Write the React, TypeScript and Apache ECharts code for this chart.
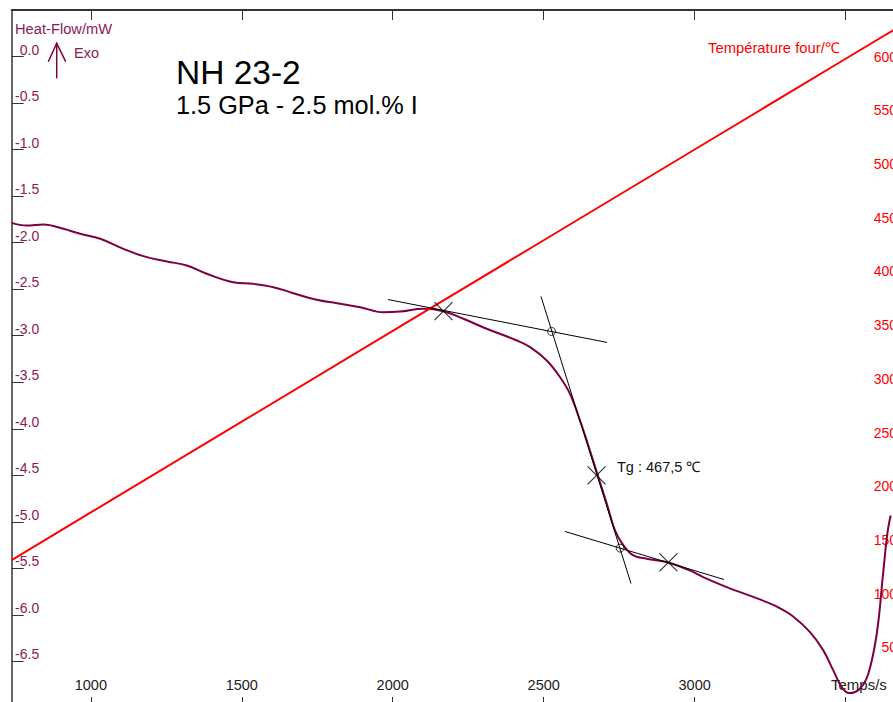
import React, { useEffect, useRef } from "react";
import * as echarts from "echarts";

// Heat-flow curve (time in s, heat flow in mW)
const hfTimes = [738, 788, 843, 909, 965, 1031, 1108, 1174, 1252, 1318, 1384, 1472, 1538, 1605, 1671, 1748, 1815, 1892, 1969, 2024, 2101, 2168, 2234, 2311, 2411, 2455, 2510, 2554, 2587, 2620, 2653, 2681, 2709, 2736, 2764, 2797, 2841, 2913, 2984, 3028, 3106, 3216, 3271, 3326, 3382, 3426, 3459, 3487, 3512, 3547, 3575, 3603, 3624, 3638, 3649];
const hfValues = [-1.787, -1.816, -1.805, -1.851, -1.905, -1.958, -2.066, -2.145, -2.202, -2.245, -2.334, -2.425, -2.442, -2.478, -2.543, -2.614, -2.65, -2.693, -2.747, -2.74, -2.71, -2.736, -2.818, -2.925, -3.051, -3.123, -3.266, -3.445, -3.624, -3.91, -4.233, -4.52, -4.805, -5.092, -5.253, -5.361, -5.396, -5.436, -5.522, -5.594, -5.701, -5.833, -5.909, -6.016, -6.185, -6.381, -6.596, -6.776, -6.84, -6.793, -6.632, -6.202, -5.557, -5.128, -4.931];

// Furnace temperature (°C)
const tempTimes = [738, 1000, 1500, 2000, 2500, 3000, 3500, 3680];
const tempValues = [137.8, 182.1, 266.6, 351.1, 435.6, 520.1, 604.6, 635.0];

// Tg construction
const tangentUpper = [[1984, -2.611], [2710, -3.072]];
const tangentSteep = [[2491, -2.578], [2789, -5.662]];
const tangentLower = [[2570, -5.103], [3097, -5.619]];
const crossMarks = [[2168, -2.736], [2675, -4.501], [2913, -5.436]];
const circleMarks = [[2526, -2.954], [2753, -5.282]];

// Axes
const xTicks = [1000, 1500, 2000, 2500, 3000, 3500];
const xLabels = [1000, 1500, 2000, 2500, 3000];
const hfTicks = [0, -0.5, -1, -1.5, -2, -2.5, -3, -3.5, -4, -4.5, -5, -5.5, -6, -6.5];
const tempTicks = [50, 100, 150, 200, 250, 300, 350, 400, 450, 500, 550, 600];

const FONT = '"Liberation Sans", Arial, sans-serif';
const MAROON = "#7d0042";
const MAROON_TXT = "#8c1a55";
const RED = "#ff0000";

export default function App() {
  const ref = useRef<HTMLDivElement>(null);
  useEffect(() => {
    if (!ref.current) return;
    const chart = echarts.init(ref.current, null, { renderer: "svg" });
    const blackLine = (data: number[][]) => ({
      type: "line",
      data,
      xAxisIndex: 0,
      yAxisIndex: 0,
      symbol: "none",
      lineStyle: { color: "#000", width: 1 },
      silent: true,
      z: 5,
    });
    chart.setOption({
      animation: false,
      backgroundColor: "#fff",
      grid: { left: 11.7, top: 10, width: 888.3, height: 698, containLabel: false },
      xAxis: [
        {
          type: "value",
          position: "bottom",
          min: 738,
          max: 3680,
          splitLine: { show: false },
          axisLine: { show: true, onZero: false, lineStyle: { color: "#333", width: 2 } },
          axisTick: { show: true, inside: true, length: 11, customValues: xTicks, lineStyle: { color: "#333", width: 1 } },
          axisLabel: {
            show: true,
            inside: true,
            margin: 16,
            customValues: xLabels,
            color: "#222",
            fontSize: 14.5,
            fontFamily: FONT,
            formatter: (v: number) => String(v),
          },
        },
        {
          type: "value",
          position: "top",
          min: 738,
          max: 3680,
          splitLine: { show: false },
          axisLine: { show: true, onZero: false, lineStyle: { color: "#333", width: 2 } },
          axisTick: { show: true, inside: true, length: 10, customValues: xTicks, lineStyle: { color: "#333", width: 1 } },
          axisLabel: { show: false },
        },
      ],
      yAxis: [
        {
          type: "value",
          position: "left",
          min: -7,
          max: 0.5,
          splitLine: { show: false },
          axisLine: { show: true, onZero: false, lineStyle: { color: "#333", width: 1.5 } },
          axisTick: { show: true, inside: true, length: 12, customValues: hfTicks, lineStyle: { color: "#333", width: 1 } },
          axisLabel: {
            show: true,
            inside: true,
            margin: 27.5,
            align: "right",
            customValues: hfTicks,
            verticalAlign: "bottom",
            color: MAROON_TXT,
            fontSize: 14,
            fontFamily: FONT,
            formatter: (v: number) => (Math.abs(v) < 1e-9 ? "0.0" : v.toFixed(1)),
          },
        },
        {
          type: "value",
          position: "right",
          min: 0,
          max: 650,
          splitLine: { show: false },
          axisLine: { show: false, onZero: false },
          axisTick: { show: false },
          axisLabel: {
            show: true,
            inside: true,
            margin: 3,
            customValues: tempTicks,
            verticalAlign: "bottom",
            color: RED,
            fontSize: 14,
            fontFamily: FONT,
          },
        },
      ],
      series: [
        {
          type: "line",
          name: "Heat-Flow",
          data: hfTimes.map((t, i) => [t, hfValues[i]]),
          xAxisIndex: 0,
          yAxisIndex: 0,
          symbol: "none",
          smooth: 0.4,
          lineStyle: { color: MAROON, width: 2 },
          z: 2,
        },
        {
          type: "line",
          name: "Température four",
          data: tempTimes.map((t, i) => [t, tempValues[i]]),
          xAxisIndex: 0,
          yAxisIndex: 1,
          symbol: "none",
          lineStyle: { color: RED, width: 2 },
          z: 3,
        },
        blackLine(tangentUpper),
        blackLine(tangentSteep),
        blackLine(tangentLower),
        {
          type: "scatter",
          data: crossMarks,
          xAxisIndex: 0,
          yAxisIndex: 0,
          symbol: "path://M0 0L20 20M20 0L0 20",
          symbolSize: 18,
          itemStyle: { color: "none", borderColor: "#000", borderWidth: 1.2 },
          z: 6,
        },
        {
          type: "scatter",
          data: circleMarks,
          xAxisIndex: 0,
          yAxisIndex: 0,
          symbol: "circle",
          symbolSize: 8,
          itemStyle: { color: "none", borderColor: "#000", borderWidth: 1 },
          z: 6,
        },
      ],
      graphic: [
        { type: "text", x: 15, y: 29, style: { text: "Heat-Flow/mW", fill: MAROON_TXT, font: `14.7px ${FONT}`, align: "left", verticalAlign: "middle" } },
        { type: "line", shape: { x1: 56.7, y1: 78.3, x2: 56.7, y2: 43.3 }, style: { stroke: MAROON, lineWidth: 1.5 } },
        { type: "polyline", shape: { points: [[48.3, 61.7], [56.7, 43.3], [65.7, 61.7]] }, style: { stroke: MAROON, lineWidth: 1.5, fill: "none" } },
        { type: "text", x: 74, y: 53, style: { text: "Exo", fill: MAROON_TXT, font: `14.5px ${FONT}`, align: "left", verticalAlign: "middle" } },
        { type: "text", x: 176, y: 72, style: { text: "NH 23-2", fill: "#000", font: `33.5px ${FONT}`, align: "left", verticalAlign: "middle" } },
        { type: "text", x: 176, y: 105, style: { text: "1.5 GPa - 2.5 mol.% I", fill: "#000", font: `25.3px ${FONT}`, align: "left", verticalAlign: "middle" } },
        { type: "text", x: 708, y: 48, style: { text: "Température four/℃", fill: RED, font: `14.8px ${FONT}`, align: "left", verticalAlign: "middle" } },
        { type: "text", x: 617, y: 467, style: { text: "Tg : 467,5 ℃", fill: "#111", font: `14.5px ${FONT}`, align: "left", verticalAlign: "middle" } },
        { type: "text", x: 831, y: 684, style: { text: "Temps/s", fill: "#222", font: `15px ${FONT}`, align: "left", verticalAlign: "middle" } },
      ],
    });
    return () => chart.dispose();
  }, []);
  return (
    <div style={{ position: "fixed", left: 0, top: 0, width: 893, height: 702, overflow: "hidden", background: "#fff" }}>
      <div ref={ref} style={{ width: 940, height: 740 }} />
    </div>
  );
}
